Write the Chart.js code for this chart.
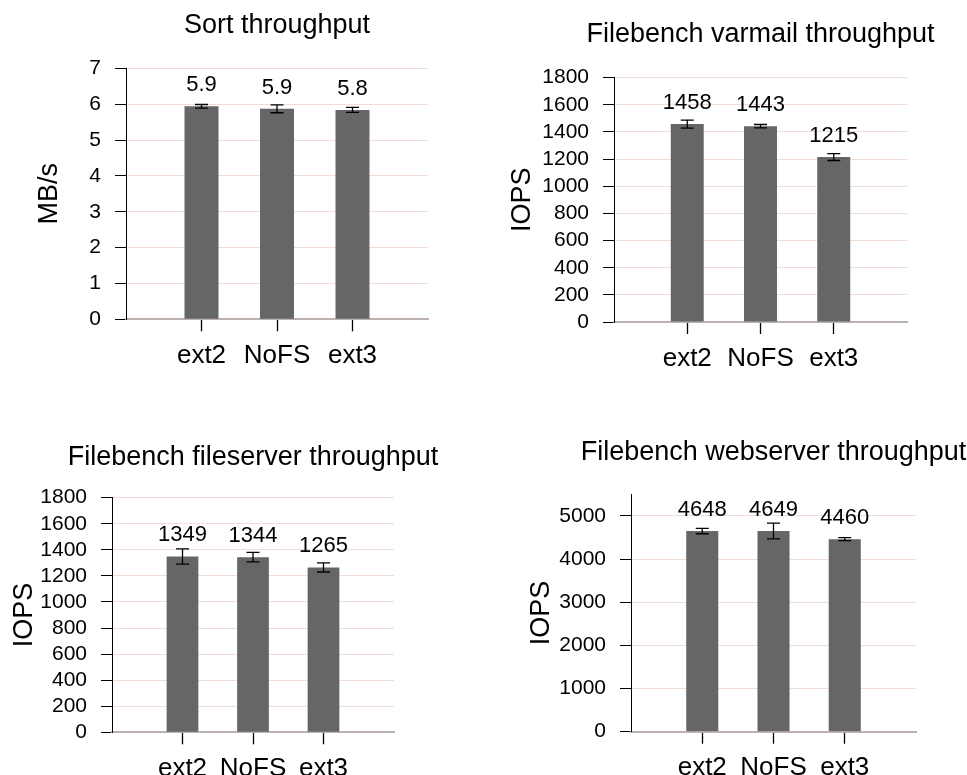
<!DOCTYPE html>
<html>
<head>
<meta charset="utf-8">
<script src="https://cdn.jsdelivr.net/npm/chart.js@4/dist/chart.umd.min.js"></script>
<style>
    html, body { margin: 0; padding: 0; background: #fff; }
    #page { position: relative; width: 967px; height: 775px; overflow: hidden; }
    #page canvas { position: absolute; }
</style>
</head>
<body>
<div id="page"></div>
<script>
// Throughput per file system, mean with error bar
const categories = ['ext2', 'NoFS', 'ext3'];

const sortMeans = [5.94, 5.87, 5.84];
const sortErrors = [0.05, 0.11, 0.07];
const sortTicks = [0, 1, 2, 3, 4, 5, 6, 7];

const varmailMeans = [1458, 1443, 1215];
const varmailErrors = [30, 12, 25];
const varmailTicks = [0, 200, 400, 600, 800, 1000, 1200, 1400, 1600, 1800];

const fileserverMeans = [1349, 1344, 1265];
const fileserverErrors = [58, 37, 35];
const fileserverTicks = [0, 200, 400, 600, 800, 1000, 1200, 1400, 1600, 1800];

const webserverMeans = [4648, 4649, 4460];
const webserverErrors = [62, 181, 35];
const webserverTicks = [0, 1000, 2000, 3000, 4000, 5000];
const webserverMax = 5500;

const FONT = "'Liberation Sans', Arial, Helvetica, sans-serif";
Chart.defaults.font.family = FONT;
Chart.defaults.color = '#000';

const ThroughputCharts = (() => {

    const errorBarPlugin = {
        id: 'errorBars',
        afterDatasetsDraw(chart) {
            const ctx = chart.ctx;
            const yScale = chart.scales.y;
            const ds = chart.data.datasets[0];
            const meta = chart.getDatasetMeta(0);

            ctx.save();
            meta.data.forEach((bar, i) => {
                const mean = ds.data[i].y;
                const err = ds.errors[i];
                const top = yScale.getPixelForValue(mean + err);
                const bottom = yScale.getPixelForValue(mean - err);

                ctx.strokeStyle = '#000';
                ctx.lineWidth = 1.3;
                ctx.beginPath();
                ctx.moveTo(bar.x, top);
                ctx.lineTo(bar.x, bottom);
                ctx.moveTo(bar.x - 6.5, top);
                ctx.lineTo(bar.x + 6.5, top);
                ctx.moveTo(bar.x - 6.5, bottom);
                ctx.lineTo(bar.x + 6.5, bottom);
                ctx.stroke();

                ctx.font = `22px ${FONT}`;
                ctx.fillStyle = '#000';
                ctx.textAlign = 'center';
                ctx.textBaseline = 'alphabetic';
                ctx.fillText(mean.toFixed(ds.decimals), bar.x, bar.y - 15);
            });
            ctx.restore();
        }
    };

    // box = canvas placement on the page; area = plot area in page coords.
    // The canvas is as wide as plot + 2 * y-axis width, so the title sits over the plot centre.
    function buildChart(cfg) {
        const left = cfg.area.left - cfg.box.left;
        const right = cfg.area.right - cfg.box.left;
        const top = cfg.area.top - cfg.box.top;
        const bottom = cfg.area.bottom - cfg.box.top;
        const titleY = cfg.titleY - cfg.box.top;
        const yTitleX = cfg.yTitleX - cfg.box.left;
        const ticks = cfg.ticks;

        const el = document.createElement('canvas');
        el.width = right + left;
        el.height = cfg.box.height;
        el.style.left = cfg.box.left + 'px';
        el.style.top = cfg.box.top + 'px';
        document.getElementById('page').appendChild(el);

        return new Chart(el, {
            type: 'bar',
            data: {
                datasets: [{
                    data: cfg.means.map((v, i) => ({ x: i + 1, y: v })),
                    errors: cfg.errors,
                    decimals: cfg.decimals,
                    backgroundColor: '#666666',
                    borderWidth: 0,
                    barPercentage: 0.45,
                    categoryPercentage: 1
                }]
            },
            options: {
                responsive: false,
                animation: false,
                layout: { padding: 0 },
                plugins: {
                    legend: { display: false },
                    tooltip: { enabled: false },
                    title: {
                        display: true,
                        text: cfg.title,
                        font: { size: 27, weight: 'normal', lineHeight: 1.2 },
                        padding: { top: titleY - 16.2, bottom: top - (titleY - 16.2) - 32.4 }
                    }
                },
                scales: {
                    x: {
                        type: 'linear',
                        min: 0,
                        max: categories.length + 1,
                        offset: false,
                        afterFit: (scale) => { scale.height = cfg.box.height - bottom; },
                        afterBuildTicks: (scale) => {
                            scale.ticks = [0, ...categories.map((c, i) => i + 1), categories.length + 1].map(v => ({ value: v }));
                        },
                        grid: {
                            offset: false,
                            drawOnChartArea: false,
                            tickLength: 12,
                            tickWidth: 1.3,
                            tickColor: (c) => (c.tick && categories[c.tick.value - 1]) ? '#000' : 'rgba(0,0,0,0)'
                        },
                        border: { color: '#bdb3ae', width: 2 },
                        ticks: {
                            autoSkip: false,
                            maxRotation: 0,
                            padding: 9,
                            font: { size: 26 },
                            callback: (v) => categories[v - 1] || ''
                        }
                    },
                    y: {
                        min: 0,
                        max: cfg.max !== undefined ? cfg.max : ticks[ticks.length - 1],
                        afterFit: (scale) => { scale.width = left; },
                        afterBuildTicks: (scale) => {
                            scale.ticks = ticks.map(v => ({ value: v }));
                        },
                        grid: {
                            color: '#f0ded5',
                            tickColor: '#000',
                            tickLength: 11,
                            lineWidth: 1
                        },
                        border: { color: '#000', width: 1 },
                        ticks: {
                            autoSkip: false,
                            padding: 14,
                            font: { size: 21, lineHeight: 1 },
                            callback: (v) => String(v)
                        },
                        title: {
                            display: true,
                            text: cfg.yTitle,
                            font: { size: 27, lineHeight: 1.2 },
                            padding: { top: yTitleX - 16.2, bottom: 0 }
                        }
                    },
                    // empty spacer on the right, same width as the y axis
                    spacer: {
                        type: 'linear',
                        position: 'right',
                        afterFit: (scale) => { scale.width = left; },
                        grid: { display: false },
                        border: { display: false },
                        ticks: { display: false }
                    }
                }
            },
            plugins: [errorBarPlugin]
        });
    }

    function init() {
        buildChart({
            title: 'Sort throughput', yTitle: 'MB/s',
            means: sortMeans, errors: sortErrors, decimals: 1, ticks: sortTicks,
            box: { left: 0, top: 0, height: 390 },
            area: { left: 126, right: 428, top: 68.3, bottom: 319.3 }, titleY: 26, yTitleX: 50
        });
        buildChart({
            title: 'Filebench varmail throughput', yTitle: 'IOPS',
            means: varmailMeans, errors: varmailErrors, decimals: 0, ticks: varmailTicks,
            box: { left: 500, top: 0, height: 390 },
            area: { left: 614, right: 907, top: 77.7, bottom: 322 }, titleY: 35, yTitleX: 523
        });
        buildChart({
            title: 'Filebench fileserver throughput', yTitle: 'IOPS',
            means: fileserverMeans, errors: fileserverErrors, decimals: 0, ticks: fileserverTicks,
            box: { left: 0, top: 390, height: 385 },
            area: { left: 112, right: 394, top: 497.7, bottom: 732.3 }, titleY: 458, yTitleX: 25
        });
        buildChart({
            title: 'Filebench webserver throughput', yTitle: 'IOPS',
            means: webserverMeans, errors: webserverErrors, decimals: 0, ticks: webserverTicks, max: webserverMax,
            box: { left: 500, top: 390, height: 385 },
            area: { left: 631, right: 916, top: 494.3, bottom: 731.7 }, titleY: 453, yTitleX: 542
        });
    }

    return { init };
})();

ThroughputCharts.init();
</script>
</body>
</html>
